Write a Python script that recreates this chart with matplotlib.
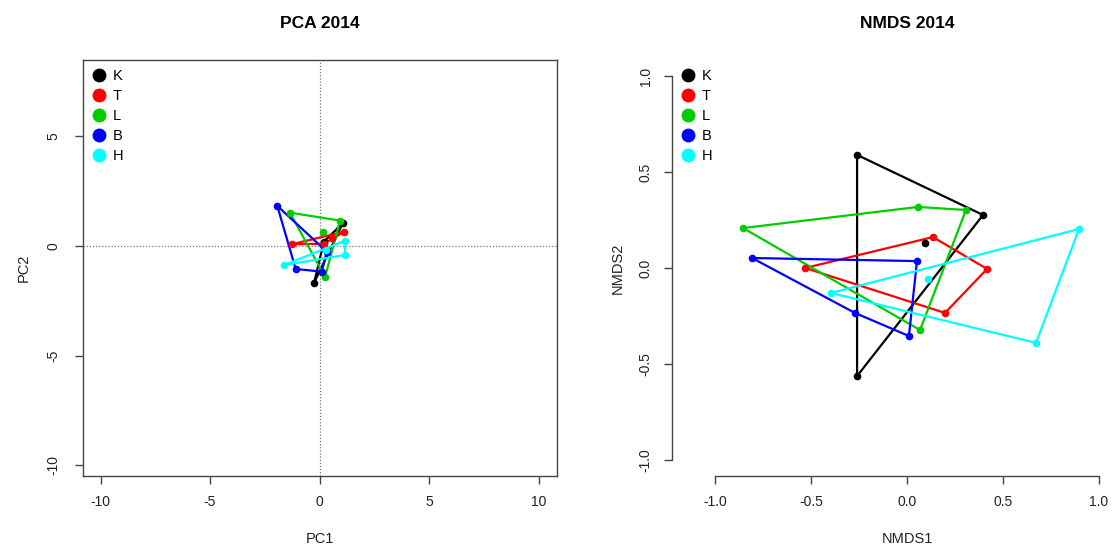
import numpy as np
import matplotlib
matplotlib.use("Agg")
import matplotlib.pyplot as plt
from matplotlib.lines import Line2D

plt.rcParams['font.family'] = ['Liberation Sans', 'DejaVu Sans']
plt.rcParams['axes.unicode_minus'] = False

groups = ["K", "T", "L", "B", "H"]
colors = ["#000000", "#FF0000", "#00CD00", "#0000FF", "#00FFFF"]

# PCA site scores per group (PC1, PC2)
pca_x = {
    "K": [1.06, -0.25, 0.20],
    "T": [-1.27, 1.12, 0.20, 0.55],
    "L": [-1.35, 0.94, 0.25, 0.17],
    "B": [-1.93, -1.09, 0.10, 0.33],
    "H": [-1.62, 1.16, 1.16, 0.30],
}
pca_y = {
    "K": [1.04, -1.68, 0.20],
    "T": [0.08, 0.65, 0.10, 0.35],
    "L": [1.52, 1.16, -1.42, 0.63],
    "B": [1.83, -1.05, -1.17, -0.26],
    "H": [-0.87, 0.24, -0.41, -0.20],
}

# NMDS site scores per group (NMDS1, NMDS2)
nmds_x = {
    "K": [-0.26, 0.396, -0.26, 0.094],
    "T": [-0.531, 0.135, 0.417, 0.198],
    "L": [-0.854, 0.057, 0.307, 0.068],
    "B": [-0.807, 0.052, 0.010, -0.271],
    "H": [-0.396, 0.896, 0.672, 0.109],
}
nmds_y = {
    "K": [0.589, 0.276, -0.5625, 0.13],
    "T": [0.0, 0.161, -0.005, -0.234],
    "L": [0.208, 0.318, 0.302, -0.323],
    "B": [0.052, 0.036, -0.354, -0.234],
    "H": [-0.13, 0.203, -0.39, -0.057],
}

pca_xticks = [-10, -5, 0, 5, 10]
pca_yticks = [-10, -5, 0, 5]
nmds_ticks = [-1.0, -0.5, 0.0, 0.5, 1.0]


def convex_hull(xs, ys):
    pts = sorted(set(zip(xs, ys)))
    if len(pts) < 3:
        return pts

    def cross(o, a, b):
        return (a[0] - o[0]) * (b[1] - o[1]) - (a[1] - o[1]) * (b[0] - o[0])

    lower, upper = [], []
    for p in pts:
        while len(lower) >= 2 and cross(lower[-2], lower[-1], p) <= 0:
            lower.pop()
        lower.append(p)
    for p in reversed(pts):
        while len(upper) >= 2 and cross(upper[-2], upper[-1], p) <= 0:
            upper.pop()
        upper.append(p)
    return lower[:-1] + upper[:-1]


def draw_groups(ax, xs, ys, lw, ms):
    for g, c in zip(groups, colors):
        hull = convex_hull(xs[g], ys[g])
        hull.append(hull[0])
        hx, hy = zip(*hull)
        ax.plot(hx, hy, color=c, lw=lw, zorder=3, solid_joinstyle="round")
        ax.plot(xs[g], ys[g], "o", color=c, ms=ms, mec="none", zorder=4)


def add_legend(ax):
    handles = [Line2D([], [], marker="o", ls="none", color=c, ms=10, mec="none")
               for c in colors]
    ax.legend(handles, groups, loc="upper left", bbox_to_anchor=(0.0, 1.0),
              frameon=False, fontsize=10.5, handlelength=1.0, handletextpad=0.45,
              labelspacing=0.42, borderaxespad=0.3, borderpad=0.3)


fig = plt.figure(figsize=(11.13, 5.5), dpi=100)
axis_col = "#444444"
tick_fs = 10

# PCA panel
ax1 = fig.add_axes([83 / 1113, 1 - 476 / 550, 474 / 1113, 416 / 550])
ax1.set_xticks(pca_xticks)
ax1.set_yticks(pca_yticks)
ax1.set_xlim(-10.8, 10.84)
ax1.set_ylim(-10.5, 8.49)
ax1.axhline(0, color="#777777", lw=0.9, ls=(0, (1, 1.5)), zorder=1)
ax1.axvline(0, color="#777777", lw=0.9, ls=(0, (1, 1.5)), zorder=1)
draw_groups(ax1, pca_x, pca_y, lw=1.6, ms=5.5)
for s in ax1.spines.values():
    s.set_color(axis_col)
    s.set_linewidth(1.0)
ax1.tick_params(axis="x", length=6, width=1.0, color=axis_col, pad=8,
                labelsize=tick_fs, labelcolor="#222222")
ax1.tick_params(axis="y", length=6, width=1.0, color=axis_col, pad=10,
                labelsize=tick_fs, labelcolor="#222222", labelrotation=90)
for lab in ax1.get_yticklabels():
    lab.set_verticalalignment("center")
ax1.set_title("PCA 2014", fontsize=12.5, fontweight="bold", pad=23)
ax1.set_xlabel("PC1", fontsize=10.5, color="#222222")
ax1.set_ylabel("PC2", fontsize=10.5, color="#222222")
ax1.xaxis.set_label_coords(0.5, -0.135)
ax1.yaxis.set_label_coords(-0.11, 0.5)
add_legend(ax1)

# NMDS panel
ax2 = fig.add_axes([672 / 1113, 1 - 476 / 550, 470 / 1113, 416 / 550])
ax2.set_xticks(nmds_ticks)
ax2.set_yticks(nmds_ticks)
ax2.set_xlim(-1.224, 1.224)
ax2.set_ylim(-1.083, 1.083)
draw_groups(ax2, nmds_x, nmds_y, lw=1.6, ms=5.5)
ax2.set_xticklabels([f"{t:.1f}" for t in nmds_ticks])
ax2.set_yticklabels([f"{t:.1f}" for t in nmds_ticks])
ax2.spines["top"].set_visible(False)
ax2.spines["right"].set_visible(False)
for side in ("left", "bottom"):
    ax2.spines[side].set_bounds(-1, 1)
    ax2.spines[side].set_color(axis_col)
    ax2.spines[side].set_linewidth(1.0)
ax2.tick_params(axis="x", length=6, width=1.0, color=axis_col, pad=8,
                labelsize=tick_fs, labelcolor="#222222")
ax2.tick_params(axis="y", length=6, width=1.0, color=axis_col, pad=8,
                labelsize=tick_fs, labelcolor="#222222", labelrotation=90)
for lab in ax2.get_yticklabels():
    lab.set_verticalalignment("center")
ax2.set_title("NMDS 2014", fontsize=12.5, fontweight="bold", pad=23)
ax2.set_xlabel("NMDS1", fontsize=10.5, color="#222222")
ax2.set_ylabel("NMDS2", fontsize=10.5, color="#222222")
ax2.xaxis.set_label_coords(0.5, -0.135)
ax2.yaxis.set_label_coords(-0.1, 0.5)
add_legend(ax2)

fig.savefig("out.png", dpi=100)
